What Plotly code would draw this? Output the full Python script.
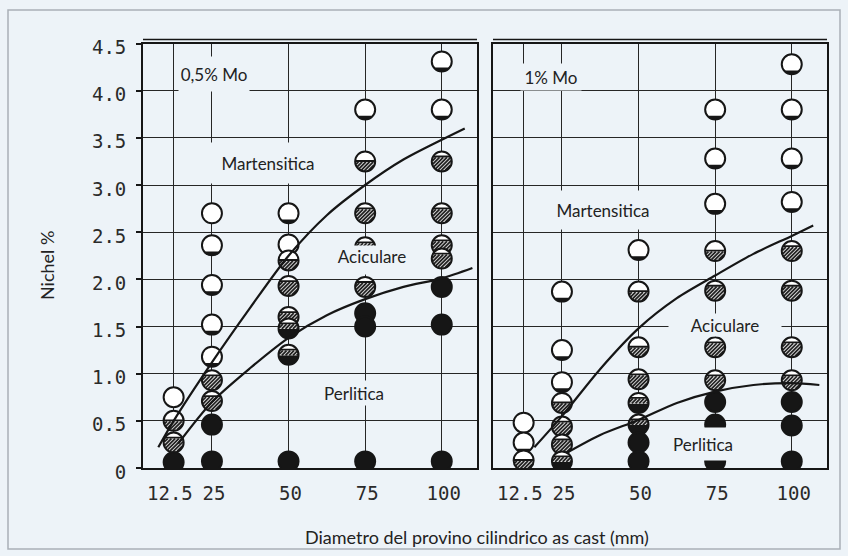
import numpy as np
import plotly.graph_objects as go

# ---------------------------------------------------------------------------
# Dati: diametro del provino (mm), tenore di nichel (%), struttura osservata
#   M   = martensitica            M+  = martensitica con tracce
#   M/A = martensitica + aciculare
#   A   = aciculare               A/P = aciculare + perlitica
#   P   = perlitica
# ---------------------------------------------------------------------------
diametri = [12.5, 25, 50, 75, 100]
etichette_diametri = ["12.5\u00a0", "25", "50", "75", "100"]
ni_tick = [0, 0.5, 1.0, 1.5, 2.0, 2.5, 3.0, 3.5, 4.0, 4.5]
ni_tick_testo = ["0", "0.5", "1.0", "1.5", "2.0", "2.5", "3.0", "3.5", "4.0", "4.5"]

# 0,5% Mo
diam_05 = [12.5, 12.5, 12.5, 12.5,
           25, 25, 25, 25, 25, 25, 25, 25, 25,
           50, 50, 50, 50, 50, 50, 50, 50,
           75, 75, 75, 75, 75, 75, 75, 75,
           100, 100, 100, 100, 100, 100, 100, 100, 100]
ni_05 = [0.75, 0.50, 0.27, 0.06,
         2.70, 2.36, 1.94, 1.52, 1.18, 0.93, 0.71, 0.46, 0.07,
         2.70, 2.37, 2.20, 1.93, 1.60, 1.48, 1.20, 0.07,
         3.80, 3.25, 2.70, 2.34, 1.92, 1.64, 1.50, 0.07,
         4.31, 3.80, 3.25, 2.70, 2.36, 2.22, 1.92, 1.52, 0.07]
strutt_05 = ["M", "M/A", "A", "P",
             "M", "M+", "M+", "M+", "M+", "A", "A", "P", "P",
             "M+", "M", "M/A", "A", "A", "A/P", "A/P", "P",
             "M+", "M/A", "A", "A", "A", "P", "P", "P",
             "M+", "M+", "A", "A", "A", "A", "P", "P", "P"]

# 1% Mo
diam_1 = [12.5, 12.5, 12.5,
          25, 25, 25, 25, 25, 25, 25,
          50, 50, 50, 50, 50, 50, 50, 50,
          75, 75, 75, 75, 75, 75, 75, 75, 75, 75,
          100, 100, 100, 100, 100, 100, 100, 100, 100, 100, 100]
ni_1 = [0.48, 0.27, 0.08,
        1.87, 1.25, 0.91, 0.69, 0.44, 0.25, 0.07,
        2.31, 1.87, 1.28, 0.94, 0.69, 0.46, 0.27, 0.07,
        3.80, 3.28, 2.80, 2.30, 1.88, 1.28, 0.93, 0.70, 0.46, 0.07,
        4.28, 3.80, 3.28, 2.82, 2.30, 1.88, 1.28, 0.93, 0.70, 0.45, 0.07]
strutt_1 = ["M", "M+", "M/A",
            "M+", "M+", "M+", "M/A", "A", "A", "A/P",
            "M+", "M/A", "M/A", "A", "A/P", "A/P", "P", "P",
            "M+", "M+", "M+", "M/A", "A", "A", "A", "P", "P", "P",
            "M+", "M+", "M+", "M+", "A", "A", "A", "A", "P", "P", "P"]

# Curve di separazione fra le strutture
conf_ma_05_x = [7.5, 12.5, 25, 37.5, 50, 62.5, 75, 87.5, 100, 107.5]
conf_ma_05_y = [0.22, 0.50, 1.12, 1.70, 2.25, 2.68, 3.00, 3.27, 3.48, 3.60]
conf_ap_05_x = [14, 25, 37.5, 50, 62.5, 75, 87.5, 100, 110]
conf_ap_05_y = [0.26, 0.70, 1.06, 1.38, 1.62, 1.79, 1.92, 2.01, 2.12]
conf_ma_1_x = [16, 25, 37.5, 50, 62.5, 75, 87.5, 100, 107]
conf_ma_1_y = [0.22, 0.55, 1.05, 1.48, 1.80, 2.04, 2.27, 2.46, 2.57]
conf_ap_1_x = [26.5, 37.5, 50, 62.5, 75, 87.5, 100, 109]
conf_ap_1_y = [0.16, 0.35, 0.51, 0.69, 0.81, 0.88, 0.90, 0.88]

# ---------------------------------------------------------------------------
W, H = 848, 556
SFONDO = "#edf3f8"
NERO = "#161616"
TESTO = "#222222"
R = 10.0          # raggio dei simboli, px

# fasce interne del simbolo (in frazioni di raggio, y verso l'alto)
FASCE = {
    "M":   [],
    "M+":  [("n", -1.0, -0.62)],
    "M/A": [("t", -1.0, -0.05), ("n", -0.05, 0.14)],
    "A":   [("t", -1.0, 0.40), ("n", 0.40, 0.58)],
    "A/P": [("n", -1.0, -0.05), ("t", -0.05, 0.42), ("n", 0.42, 0.60)],
    "P":   [("n", -1.0, 1.0)],
}


def segmento(lo, hi, r=R):
    th = np.linspace(0, 2 * np.pi, 48, endpoint=False)
    xs = np.cos(th) * r
    ys = np.clip(np.sin(th) * r, lo * r, hi * r)
    return "M" + "L".join(f"{a:.2f},{b:.2f}" for a, b in zip(xs, ys)) + "Z"


def tratteggio(lo, hi, r=R - 0.6, passo=3.7):
    lo, hi = lo * R, hi * R
    out = []
    for c in np.arange(-1.45 * r, 1.45 * r, passo):
        d = 2 * r * r - c * c
        if d <= 0:
            continue
        s = np.sqrt(d)
        t1, t2 = max((-c - s) / 2, lo), min((-c + s) / 2, hi)
        if t2 - t1 < 0.3:
            continue
        out.append(f"M{t1 + c:.2f},{t1:.2f}L{t2 + c:.2f},{t2:.2f}")
    return "".join(out)


def simbolo(x, y, codice, xref, yref):
    base = dict(xref=xref, yref=yref, xsizemode="pixel", ysizemode="pixel",
                xanchor=x, yanchor=y, layer="between")
    forme = [dict(type="circle", x0=-R, x1=R, y0=-R, y1=R,
                  fillcolor="white", line=dict(width=0), **base)]
    for tipo, lo, hi in FASCE[codice]:
        if tipo == "n":
            forme.append(dict(type="path", path=segmento(lo, hi),
                              fillcolor=NERO, line=dict(width=0), **base))
        else:
            forme.append(dict(type="path", path=segmento(lo, hi),
                              fillcolor="#d9d9d9", line=dict(width=0), **base))
            forme.append(dict(type="path", path=tratteggio(lo, hi),
                              line=dict(color="#202020", width=1.7), **base))
    forme.append(dict(type="circle", x0=-R, x1=R, y0=-R, y1=R,
                      fillcolor="rgba(0,0,0,0)", line=dict(color=NERO, width=2), **base))
    return forme


fig = go.Figure()

pannelli = [
    ("x", "y", diam_05, ni_05, strutt_05,
     (conf_ma_05_x, conf_ma_05_y), (conf_ap_05_x, conf_ap_05_y)),
    ("x2", "y2", diam_1, ni_1, strutt_1,
     (conf_ma_1_x, conf_ma_1_y), (conf_ap_1_x, conf_ap_1_y)),
]

forme = []
for xr, yr, dd, nn, ss, c1, c2 in pannelli:
    for cx, cy in (c1, c2):
        fig.add_trace(go.Scatter(x=cx, y=cy, xaxis=xr, yaxis=yr, mode="lines",
                                 line=dict(color=NERO, width=2.2, shape="spline", smoothing=0.8),
                                 hoverinfo="skip", showlegend=False))
    fig.add_trace(go.Scatter(x=dd, y=nn, xaxis=xr, yaxis=yr, mode="markers",
                             marker=dict(size=20, opacity=0), text=ss,
                             hovertemplate="%{x} mm<br>Ni %{y}%<br>%{text}<extra></extra>",
                             showlegend=False))
    for x, y, s in zip(dd, nn, ss):
        forme += simbolo(x, y, s, xr, yr)

# cornice esterna e doppia linea superiore dei riquadri
forme.append(dict(type="rect", xref="paper", yref="paper", x0=8 / W, x1=840 / W,
                  y0=1 - 549 / H, y1=1 - 10 / H, line=dict(color="#a9b0b6", width=1.5),
                  layer="below"))
for a, b in ((143, 477), (493, 827)):
    forme.append(dict(type="line", xref="paper", yref="paper", x0=a / W, x1=b / W,
                      y0=1 - 39.5 / H, y1=1 - 39.5 / H, line=dict(color=NERO, width=1.6)))

# etichette: (asse x, asse y, testo, x, y, larghezza, altezza, allineamento verticale)
etichette = [
    ("x", "y", "0,5% Mo", 25.7, 4.18, 70, 34, "middle"),
    ("x", "y", "Martensitica", 43.3, 3.23, 124, 40, "middle"),
    ("x", "y", "Aciculare", 77.2, 2.21, 78, 28, "top"),
    ("x", "y", "Perlitica", 71.4, 0.80, 72, 24, "middle"),
    ("x2", "y2", "1% Mo", 21.4, 4.15, 60, 26, "middle"),
    ("x2", "y2", "Martensitica", 38.4, 2.74, 106, 38, "middle"),
    ("x2", "y2", "Aciculare", 78.3, 1.52, 112, 22, "middle"),
    ("x2", "y2", "Perlitica", 71.0, 0.25, 80, 32, "middle"),
]
ann = []
for xr, yr, t, x, y, w, h, va in etichette:
    ann.append(dict(xref=xr, yref=yr, x=x, y=y, text=t, showarrow=False,
                    width=w, height=h, valign=va, bgcolor=SFONDO, borderpad=0,
                    font=dict(family="Lato", size=17, color=TESTO)))
ann.append(dict(xref="paper", yref="paper", x=47 / W, y=1 - 266 / H, text="Nichel %",
                xanchor="center", yanchor="middle", textangle=-90, showarrow=False,
                font=dict(family="Lato", size=18, color=TESTO)))
ann.append(dict(xref="paper", yref="paper", x=477 / W, y=1 - 537 / H,
                xanchor="center", yanchor="middle",
                text="Diametro del provino cilindrico as cast (mm)", showarrow=False,
                font=dict(family="Lato", size=18, color=TESTO)))

font_tick = dict(family="DejaVu Sans Mono", size=19, color="#2a2a2a")
asse_x = dict(range=[2.5, 111.5], tickmode="array", tickvals=diametri,
              ticktext=etichette_diametri, tickangle=0, showgrid=True,
              gridcolor="#262626", gridwidth=1.3, zeroline=False, showline=True,
              mirror=True, linecolor=NERO, linewidth=1.8, ticks="",
              ticklabelstandoff=7, ticklabelshift=2, tickfont=font_tick,
              automargin=False, fixedrange=True)
asse_y = dict(range=[0, 4.5], tickmode="array", tickvals=ni_tick,
              ticktext=ni_tick_testo, showgrid=True, gridcolor="#262626",
              gridwidth=1.3, zeroline=False, showline=True, mirror=True,
              linecolor=NERO, linewidth=1.8, automargin=False, fixedrange=True)

fig.update_layout(
    width=W, height=H,
    margin=dict(l=0, r=0, t=0, b=0, pad=0, autoexpand=False),
    paper_bgcolor=SFONDO, plot_bgcolor=SFONDO,
    xaxis=dict(domain=[143 / W, 477 / W], anchor="y", **asse_x),
    xaxis2=dict(domain=[493 / W, 827 / W], anchor="y2", **asse_x),
    yaxis=dict(domain=[1 - 468 / H, 1 - 43.5 / H], anchor="x", ticks="outside",
               ticklen=5, tickwidth=1.5, tickcolor=NERO, ticklabelstandoff=6,
               ticklabelshift=4, tickfont=font_tick, **asse_y),
    yaxis2=dict(domain=[1 - 468 / H, 1 - 43.5 / H], anchor="x2", showticklabels=False,
                ticks="", **asse_y),
    shapes=forme,
    annotations=ann,
    showlegend=False,
)

fig.write_html("out.html")
